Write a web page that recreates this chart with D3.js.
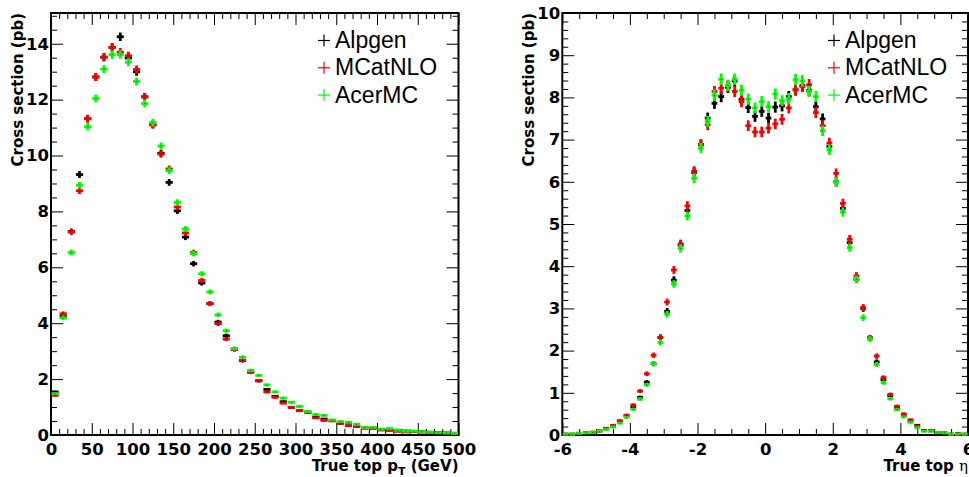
<!DOCTYPE html>
<html>
<head>
<meta charset="utf-8">
<script src="https://cdn.jsdelivr.net/npm/d3@7"></script>
<style>
  html, body { margin: 0; padding: 0; background: #fff; }
  svg { display: block; }
</style>
</head>
<body>
<svg id="chart" width="969" height="477"></svg>
<script>
// ---- Series names and colours ----
const seriesNames  = ["Alpgen", "MCatNLO", "AcerMC"];
const seriesColors = ["#000000", "#ff0000", "#00ff00"];

// ---- Top-quark pT spectrum: 10 GeV bins from 0 to 500 GeV (pb) ----
const ptBinWidth = 10;
const ptCenters = d3.range(5, 500, ptBinWidth);
const ptAlpgen = [
  1.54, 4.24, 7.28, 9.32, 11.32, 12.81, 13.52, 13.87, 14.25, 13.49,
  13.00, 12.10, 11.12, 10.08, 9.04, 8.02, 7.08, 6.13, 5.44, 4.70,
  4.04, 3.55, 3.06, 2.66, 2.26, 1.94, 1.63, 1.38, 1.19, 0.99,
  0.88, 0.81, 0.64, 0.57, 0.51, 0.43, 0.42, 0.31, 0.25, 0.24,
  0.19, 0.19, 0.17, 0.14, 0.13, 0.12, 0.10, 0.08, 0.07, 0.06
];
const ptMCatNLO = [
  1.42, 4.34, 7.26, 8.74, 11.32, 12.81, 13.52, 13.87, 13.70, 13.57,
  13.08, 12.10, 11.09, 10.05, 9.52, 8.16, 7.23, 6.53, 5.53, 4.70,
  3.98, 3.43, 3.06, 2.67, 2.24, 1.94, 1.54, 1.35, 1.14, 0.99,
  0.88, 0.83, 0.61, 0.52, 0.51, 0.41, 0.33, 0.31, 0.25, 0.24,
  0.18, 0.16, 0.13, 0.11, 0.12, 0.10, 0.08, 0.08, 0.07, 0.06
];
const ptAcerMC = [
  1.48, 4.19, 6.53, 8.94, 11.03, 12.04, 13.09, 13.61, 13.61, 13.34,
  12.65, 11.86, 11.18, 10.34, 9.46, 8.32, 7.37, 6.49, 5.77, 5.12,
  4.30, 3.73, 3.10, 2.78, 2.31, 2.13, 1.79, 1.54, 1.32, 1.17,
  1.02, 0.83, 0.73, 0.70, 0.54, 0.48, 0.45, 0.38, 0.27, 0.27,
  0.21, 0.23, 0.17, 0.14, 0.14, 0.12, 0.10, 0.08, 0.07, 0.06
];

// ---- Top-quark pseudorapidity: 0.2 bins from -6 to 6 (pb) ----
const etaBinWidth = 0.2;
const etaCenters = d3.range(60).map(i => -5.9 + i * etaBinWidth);
const etaAlpgen = [
  0.02, 0.02, 0.04, 0.05, 0.06, 0.09, 0.15, 0.21, 0.32, 0.46,
  0.66, 0.89, 1.25, 1.69, 2.31, 2.93, 3.67, 4.50, 5.32, 6.22,
  6.88, 7.51, 7.86, 8.02, 8.24, 8.39, 7.96, 7.76, 7.55, 7.67,
  7.51, 7.77, 7.80, 8.02, 8.18, 8.28, 8.16, 7.78, 7.49, 6.84,
  6.00, 5.37, 4.56, 3.69, 3.00, 2.30, 1.73, 1.31, 0.93, 0.65,
  0.47, 0.33, 0.23, 0.11, 0.10, 0.06, 0.05, 0.02, 0.02, 0.02
];
const etaMCatNLO = [
  0.02, 0.02, 0.04, 0.05, 0.07, 0.10, 0.16, 0.23, 0.34, 0.47,
  0.71, 1.04, 1.45, 1.89, 2.31, 3.15, 3.91, 4.53, 5.43, 6.25,
  6.88, 7.35, 8.14, 8.22, 8.28, 8.14, 7.90, 7.33, 7.18, 7.18,
  7.27, 7.37, 7.48, 7.75, 8.18, 8.26, 8.30, 7.64, 7.33, 6.92,
  6.20, 5.49, 4.64, 3.77, 3.02, 2.30, 1.87, 1.36, 0.96, 0.68,
  0.50, 0.36, 0.21, 0.10, 0.10, 0.06, 0.05, 0.02, 0.04, 0.02
];
const etaAcerMC = [
  0.02, 0.02, 0.04, 0.05, 0.06, 0.09, 0.13, 0.19, 0.28, 0.42,
  0.61, 0.85, 1.19, 1.69, 2.19, 2.86, 3.58, 4.42, 5.19, 6.08,
  6.80, 7.43, 8.05, 8.43, 8.28, 8.43, 8.17, 7.96, 7.75, 7.90,
  7.78, 8.08, 7.92, 7.97, 8.42, 8.39, 8.14, 8.02, 7.21, 6.76,
  6.00, 5.28, 4.44, 3.69, 2.78, 2.27, 1.67, 1.24, 0.86, 0.60,
  0.43, 0.30, 0.17, 0.09, 0.09, 0.06, 0.05, 0.02, 0.02, 0.02
];

// ---- Axis tick values and labels ----
const ptMajorTicks  = d3.range(0, 501, 50);
const ptYMajorTicks = [0, 2, 4, 6, 8, 10, 12, 14];
const etaMajorTicks = [-6, -4, -2, 0, 2, 4, 6];
const etaYMajorTicks = [0, 1, 2, 3, 4, 5, 6, 7, 8, 9, 10];
const yTitle = "Cross section (pb)";

const svg = d3.select("#chart");

const panels = [
  {
    left: 51, right: 458.5, top: 13, bottom: 435,
    xDomain: [0, 500], yDomain: [0, 15.1],
    xMajor: ptMajorTicks, xMinorStep: 10,
    yMajor: ptYMajorTicks, yMinorStep: 0.5,
    centers: ptCenters, binWidth: ptBinWidth,
    series: [ptAlpgen, ptMCatNLO, ptAcerMC],
    errScale: 0.04,
    titleX: 23, legendX: 324,
    xTitle: "pt"
  },
  {
    left: 562.3, right: 968, top: 13, bottom: 435,
    xDomain: [-6, 6], yDomain: [0, 10],
    xMajor: etaMajorTicks, xMinorStep: 0.5,
    yMajor: etaYMajorTicks, yMinorStep: 0.2,
    centers: etaCenters, binWidth: etaBinWidth,
    series: [etaAlpgen, etaMCatNLO, etaAcerMC],
    errScale: 0.047,
    titleX: 534, legendX: 834,
    xTitle: "eta"
  }
];

const tickFont = "'DejaVu Sans', sans-serif";
// plain hyphen for negative numbers
const tickLabel = d => String(d);

function minorValues(domain, step, majors) {
  const out = [];
  const n = Math.round((domain[1] - domain[0]) / step);
  for (let i = 0; i <= n; i++) {
    const v = +(domain[0] + i * step).toFixed(6);
    if (!majors.some(m => Math.abs(m - v) < 1e-6)) out.push(v);
  }
  return out;
}

function styleAxis(g) {
  g.select(".domain").remove();
  g.selectAll(".tick line").attr("stroke", "#000").attr("stroke-width", 1);
  g.selectAll("text")
    .attr("font-family", tickFont)
    .attr("font-weight", "bold")
    .attr("font-size", 16.5)
    .attr("fill", "#000");
}

panels.forEach(p => {
  const x = d3.scaleLinear().domain(p.xDomain).range([p.left, p.right]);
  const y = d3.scaleLinear().domain(p.yDomain).range([p.bottom, p.top]);
  const g = svg.append("g");

  const xMinor = minorValues(p.xDomain, p.xMinorStep, p.xMajor);
  const yMinor = minorValues(p.yDomain, p.yMinorStep, p.yMajor);
  const major = 12, minor = 6;

  // bottom axis: inward ticks, bold labels
  g.append("g").attr("transform", `translate(0,${p.bottom})`)
    .call(d3.axisBottom(x).tickValues(p.xMajor).tickSizeInner(-major).tickSizeOuter(0)
      .tickPadding(8).tickFormat(tickLabel))
    .call(styleAxis);
  g.append("g").attr("transform", `translate(0,${p.bottom})`)
    .call(d3.axisBottom(x).tickValues(xMinor).tickSizeInner(-minor).tickSizeOuter(0).tickFormat(""))
    .call(styleAxis);
  // top axis: ticks only
  g.append("g").attr("transform", `translate(0,${p.top})`)
    .call(d3.axisTop(x).tickValues(p.xMajor).tickSizeInner(-major).tickSizeOuter(0).tickFormat(""))
    .call(styleAxis);
  g.append("g").attr("transform", `translate(0,${p.top})`)
    .call(d3.axisTop(x).tickValues(xMinor).tickSizeInner(-minor).tickSizeOuter(0).tickFormat(""))
    .call(styleAxis);
  // left axis
  g.append("g").attr("transform", `translate(${p.left},0)`)
    .call(d3.axisLeft(y).tickValues(p.yMajor).tickSizeInner(-major).tickSizeOuter(0)
      .tickPadding(2).tickFormat(tickLabel))
    .call(styleAxis);
  g.append("g").attr("transform", `translate(${p.left},0)`)
    .call(d3.axisLeft(y).tickValues(yMinor).tickSizeInner(-minor).tickSizeOuter(0).tickFormat(""))
    .call(styleAxis);
  // right axis: ticks only
  g.append("g").attr("transform", `translate(${p.right},0)`)
    .call(d3.axisRight(y).tickValues(p.yMajor).tickSizeInner(-major).tickSizeOuter(0).tickFormat(""))
    .call(styleAxis);
  g.append("g").attr("transform", `translate(${p.right},0)`)
    .call(d3.axisRight(y).tickValues(yMinor).tickSizeInner(-minor).tickSizeOuter(0).tickFormat(""))
    .call(styleAxis);

  // frame
  g.append("rect")
    .attr("x", p.left).attr("y", p.top)
    .attr("width", p.right - p.left).attr("height", p.bottom - p.top)
    .attr("fill", "none").attr("stroke", "#000").attr("stroke-width", 2);

  // data: horizontal bar spans the bin, vertical bar the statistical error
  p.series.forEach((vals, si) => {
    const col = seriesColors[si];
    const sg = g.append("g");
    const pts = vals.map((v, i) => ({ c: p.centers[i], v, e: p.errScale * Math.sqrt(v) }));
    sg.selectAll("line.h").data(pts).join("line")
      .attr("x1", d => x(d.c - p.binWidth / 2) + 0.5)
      .attr("x2", d => x(d.c + p.binWidth / 2) - 0.5)
      .attr("y1", d => y(d.v)).attr("y2", d => y(d.v))
      .attr("stroke", col).attr("stroke-width", 2.8);
    sg.selectAll("line.v").data(pts).join("line")
      .attr("x1", d => x(d.c)).attr("x2", d => x(d.c))
      .attr("y1", d => y(d.v - d.e)).attr("y2", d => y(d.v + d.e))
      .attr("stroke", col).attr("stroke-width", 2.8);
    sg.selectAll("rect.dot").data(pts).join("rect")
      .attr("x", d => x(d.c) - 0.5).attr("y", d => y(d.v) - 0.5)
      .attr("width", 1).attr("height", 1)
      .attr("fill", "#000").attr("opacity", 0.7);
  });

  // y-axis title
  g.append("text")
    .attr("transform", `translate(${p.titleX},${p.top}) rotate(-90)`)
    .attr("text-anchor", "end")
    .attr("font-family", tickFont).attr("font-weight", "bold").attr("font-size", 15)
    .text(yTitle);

  // x-axis title
  const xt = g.append("text")
    .attr("x", p.right).attr("y", 471)
    .attr("text-anchor", "end")
    .attr("font-family", tickFont).attr("font-weight", "bold").attr("font-size", 15);
  if (p.xTitle === "pt") {
    xt.append("tspan").text("True top p");
    xt.append("tspan").attr("font-size", 11).attr("dy", 4).text("T");
    xt.append("tspan").attr("dy", -4).text(" (GeV)");
  } else {
    xt.append("tspan").text("True top ");
    xt.append("tspan").attr("font-weight", "normal").attr("font-family", "'DejaVu Serif', serif").text("η");
  }

  // legend
  seriesNames.forEach((name, i) => {
    const cy = 40.5 + i * 27.3;
    g.append("line").attr("x1", p.legendX - 6).attr("x2", p.legendX + 6)
      .attr("y1", cy).attr("y2", cy).attr("stroke", seriesColors[i]).attr("stroke-width", 1.2);
    g.append("line").attr("x1", p.legendX).attr("x2", p.legendX)
      .attr("y1", cy - 6).attr("y2", cy + 6).attr("stroke", seriesColors[i]).attr("stroke-width", 1.2);
    g.append("text")
      .attr("x", p.legendX + 11).attr("y", cy + 7.5)
      .attr("font-family", "'Liberation Sans', Arial, sans-serif").attr("font-size", 23)
      .attr("fill", "#000")
      .text(name);
  });
});
</script>
</body>
</html>
